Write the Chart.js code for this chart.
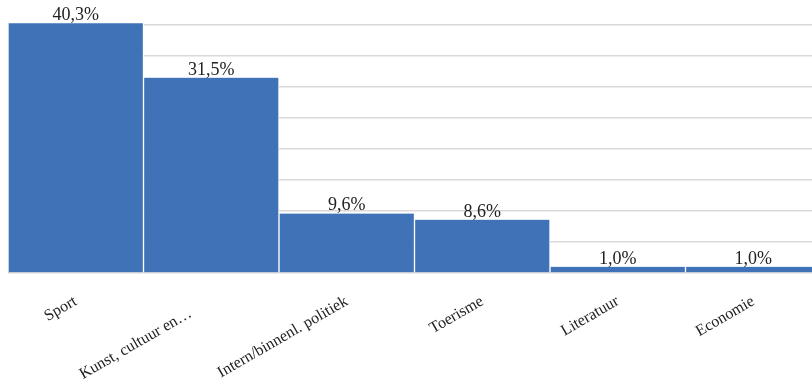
<!DOCTYPE html>
<html>
<head>
<meta charset="utf-8">
<script src="https://cdn.jsdelivr.net/npm/chart.js@4/dist/chart.umd.min.js"></script>
<style>
  html, body { margin: 0; padding: 0; background: #fff; overflow: hidden; }
  #wrap { width: 812px; height: 381px; overflow: hidden; }
  canvas { display: block; }
</style>
</head>
<body>
<div id="wrap"><canvas id="c" width="821" height="381"></canvas></div>
<script>
// Onderwerpen en aandeel (%)
const categories = ['Sport', 'Kunst, cultuur en…', 'Intern/binnenl. politiek', 'Toerisme', 'Literatuur', 'Economie'];
const shares = [40.3, 31.5, 9.6, 8.6, 1.0, 1.0];
const yMax = 40;
const yStep = 5;

const FONT = '"Liberation Serif", "Times New Roman", serif';

// Percentage labels above each bar, Dutch decimal comma
const valueLabels = {
  id: 'valueLabels',
  afterDatasetsDraw(chart) {
    const ctx = chart.ctx;
    const meta = chart.getDatasetMeta(0);
    ctx.save();
    ctx.font = '18px ' + FONT;
    ctx.fillStyle = '#222';
    ctx.textAlign = 'center';
    ctx.textBaseline = 'alphabetic';
    meta.data.forEach((bar, i) => {
      const txt = shares[i].toFixed(1).replace('.', ',') + '%';
      ctx.fillText(txt, bar.x, bar.y - 3);
    });
    ctx.restore();
  }
};

new Chart(document.getElementById('c'), {
  type: 'bar',
  data: {
    labels: categories,
    datasets: [{
      data: shares,
      backgroundColor: '#3F72B7',
      borderColor: '#ffffff',
      borderWidth: { left: 1, right: 1, top: 0, bottom: 0 },
      borderSkipped: 'bottom',
      barPercentage: 1,
      categoryPercentage: 1,
      clip: false
    }]
  },
  options: {
    responsive: false,
    animation: false,
    layout: { padding: { left: 8, top: 25, right: 0, bottom: 0 } },
    plugins: { legend: { display: false }, tooltip: { enabled: false } },
    scales: {
      x: {
        grid: { display: false },
        border: { display: false },
        ticks: {
          minRotation: 30,
          maxRotation: 30,
          autoSkip: false,
          padding: 11,
          color: '#222',
          font: { family: FONT, size: 16 },
          // the truncated label keeps the room of its full text, so it sits further out
          callback(value, i) {
            const label = categories[i];
            return label.endsWith('…') ? label + '\u00a0'.repeat(6) : label;
          }
        },
        afterFit(s) { s.height = 108; }
      },
      y: {
        min: 0,
        max: yMax,
        ticks: { display: false, stepSize: yStep },
        grid: { color: '#d9d9d9', lineWidth: 1.5, drawTicks: false },
        border: { display: false },
        afterFit(s) { s.width = 0; }
      }
    }
  },
  plugins: [valueLabels]
});
</script>
</body>
</html>
